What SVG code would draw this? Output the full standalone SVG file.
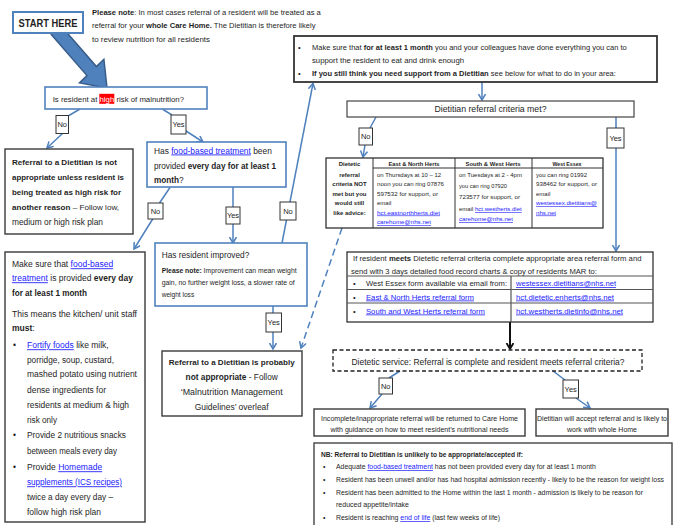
<svg xmlns="http://www.w3.org/2000/svg" width="678" height="525" viewBox="0 0 678 525">
<style>
text{font-family:"Liberation Sans",Arial,sans-serif;fill:#1e1e1e}
.b{font-weight:bold}
.lk{fill:#1a1aff;text-decoration:underline}
.bb{fill:#fff;stroke:#4f81bd;stroke-width:1.6}
.db{fill:#fff;stroke:#3a3a3a;stroke-width:1.4}
.lb{fill:#fff;stroke:#333;stroke-width:1}
.con{fill:none;stroke:#4f81bd;stroke-width:1.5}
.lt{font-size:7.5px;text-anchor:middle}
.lf{font-size:8.5px}
.tb{font-size:6px}
.tl{fill:none;stroke:#333;stroke-width:1}
</style>
<defs>
<marker id="ah" markerUnits="userSpaceOnUse" markerWidth="10" markerHeight="10" refX="6.5" refY="4" orient="auto"><path d="M0.5,0.5 L6.5,4 L0.5,7.5" fill="none" stroke="#4f81bd" stroke-width="1.5"/></marker>
<marker id="ahk" markerUnits="userSpaceOnUse" markerWidth="10" markerHeight="10" refX="6.5" refY="4" orient="auto"><path d="M0.5,0.5 L6.5,4 L0.5,7.5" fill="none" stroke="#111" stroke-width="1.8"/></marker>
</defs>
<rect width="678" height="525" fill="#fff"/>

<g id="connectors">
<polygon points="60.7,25.5 96.4,66.6 103.9,59.3 107,88 79.5,82.9 87,75.6 51.3,34.5" fill="#4f81bd" stroke="#385d8a" stroke-width="1.5"/>
<path class="con" d="M80,109 L69,115.5 M63,133 L47,148" marker-end="url(#ah)"/>
<path class="con" d="M163,109.5 L172,115 M186,131 L203,142" marker-end="url(#ah)"/>
<path class="con" d="M170,187.5 L159.5,203 M153,218.5 L134,249" marker-end="url(#ah)"/>
<path class="con" d="M233,187 L233,207 M233,224 L233,243" marker-end="url(#ah)"/>
<path class="con" d="M282,243 L313,83.5" marker-end="url(#ah)"/>
<path class="con" d="M273,306 L273,313 M273,332 L273,349" marker-end="url(#ah)"/>
<path class="con" d="M342,228 L301,348" stroke-dasharray="7 4" marker-end="url(#ah)"/>
<path class="con" d="M482,82 L482,100" marker-end="url(#ah)"/>
<path class="con" d="M376,117 L370,128 M365,145 L363,157" marker-end="url(#ah)"/>
<path class="con" d="M616,117 L616,128 M616,148 L616,251" marker-end="url(#ah)"/>
<path d="M510,322 L510,349" fill="none" stroke="#111" stroke-width="2" marker-end="url(#ahk)"/>
<path class="con" d="M400,371 L389,378 M382,394 L370,408" marker-end="url(#ah)"/>
<path class="con" d="M553,371 L565,380 M576,398 L590,408" marker-end="url(#ah)"/>
</g>

<g id="start">
<rect x="13" y="12" width="70" height="21" fill="#fff" stroke="#4f81bd" stroke-width="2"/>
<text x="48" y="26.8" class="b" font-size="10.5" text-anchor="middle" textLength="59" lengthAdjust="spacingAndGlyphs">START HERE</text>
</g>

<g id="note">
<text font-size="7.6" x="92" y="15"><tspan class="b">Please note</tspan>: In most cases referral of a resident will be treated as a</text>
<text font-size="7.6" x="92" y="28.4">referral for your <tspan class="b">whole Care Home.</tspan> The Dietitian is therefore likely</text>
<text font-size="7.6" x="92" y="42" textLength="118" lengthAdjust="spacingAndGlyphs">to review nutrition for all residents</text>
</g>

<g id="q-high-risk">
<rect class="bb" x="45" y="87" width="162" height="22"/>
<rect x="99.3" y="93.8" width="15" height="10" fill="#ff0000"/>
<text font-size="7.8" x="52.7" y="101.5">Is resident at <tspan fill="#fff">high</tspan> risk of malnutrition?</text>
</g>

<g id="not-appropriate">
<rect class="db" x="5" y="149" width="128" height="85"/>
<text class="b" font-size="8.1" x="12" y="165" textLength="105" lengthAdjust="spacingAndGlyphs">Referral to a Dietitian is not</text>
<text class="b" font-size="8.1" x="12" y="180" textLength="112" lengthAdjust="spacingAndGlyphs">appropriate unless resident is</text>
<text class="b" font-size="8.1" x="12" y="194.5" textLength="109" lengthAdjust="spacingAndGlyphs">being treated as high risk for</text>
<text font-size="8.1" x="12" y="210"><tspan class="b">another reason</tspan> – Follow low,</text>
<text font-size="8.4" x="12" y="224.5" textLength="91" lengthAdjust="spacingAndGlyphs">medium or high risk plan</text>
</g>

<g id="q-food-based">
<rect class="bb" x="147" y="142" width="139" height="45"/>
<text font-size="8.4" x="154" y="153.5">Has <tspan class="lk">food-based treatment</tspan> been</text>
<text font-size="8.2" x="154" y="168.5">provided <tspan class="b">every day for at least 1</tspan></text>
<text font-size="8.2" x="154" y="182.8"><tspan class="b">month</tspan>?</text>
</g>

<g id="food-based-advice">
<rect class="db" x="5" y="252" width="140" height="270"/>
<text class="lf" x="12" y="267.3">Make sure that <tspan class="lk">food-based</tspan></text>
<text class="lf" x="12" y="281.3"><tspan class="lk">treatment</tspan> is provided <tspan class="b">every day</tspan></text>
<text class="lf b" x="12" y="296.3" textLength="75" lengthAdjust="spacingAndGlyphs">for at least 1 month</text>
<text class="lf" x="12" y="317.3" textLength="125" lengthAdjust="spacingAndGlyphs">This means the kitchen/ unit staff</text>
<text class="lf" x="12" y="331.3"><tspan class="b">must</tspan>:</text>
<text class="lf" x="13" y="348.3">•</text>
<text class="lf" x="27" y="348.3"><tspan class="lk">Fortify foods</tspan> like milk,</text>
<text class="lf" x="27" y="363.3" textLength="87" lengthAdjust="spacingAndGlyphs">porridge, soup, custard,</text>
<text class="lf" x="27" y="377.3" textLength="110" lengthAdjust="spacingAndGlyphs">mashed potato using nutrient</text>
<text class="lf" x="27" y="393.3" textLength="79" lengthAdjust="spacingAndGlyphs">dense ingredients for</text>
<text class="lf" x="27" y="408.3" textLength="102" lengthAdjust="spacingAndGlyphs">residents at medium &amp; high</text>
<text class="lf" x="27" y="423.3" textLength="30" lengthAdjust="spacingAndGlyphs">risk only</text>
<text class="lf" x="13" y="438.3">•</text>
<text class="lf" x="27" y="438.3" textLength="99" lengthAdjust="spacingAndGlyphs">Provide 2 nutritious snacks</text>
<text class="lf" x="27" y="454.3" textLength="90" lengthAdjust="spacingAndGlyphs">between meals every day</text>
<text class="lf" x="13" y="470.3">•</text>
<text class="lf" x="27" y="470.3">Provide <tspan class="lk">Homemade</tspan></text>
<text class="lf lk" x="27" y="485.3" textLength="95" lengthAdjust="spacingAndGlyphs">supplements (ICS recipes)</text>
<text class="lf" x="27" y="500.3" textLength="86" lengthAdjust="spacingAndGlyphs">twice a day every day –</text>
<text class="lf" x="27" y="515.3" textLength="74" lengthAdjust="spacingAndGlyphs">follow high risk plan</text>
</g>

<g id="q-improved">
<rect class="bb" x="155" y="243" width="152" height="63"/>
<text font-size="8.2" x="161.7" y="258" textLength="87.6" lengthAdjust="spacingAndGlyphs">Has resident improved?</text>
<text font-size="6.8" x="161.7" y="272.5"><tspan class="b">Please note:</tspan> Improvement can mean weight</text>
<text font-size="6.8" x="161.7" y="284.5" textLength="133" lengthAdjust="spacingAndGlyphs">gain, no further weight loss, a slower rate of</text>
<text font-size="6.8" x="161.7" y="296.5" textLength="32.5" lengthAdjust="spacingAndGlyphs">weight loss</text>
</g>

<g id="probably-not">
<rect class="db" x="162" y="351" width="140" height="65"/>
<text class="b" font-size="8" x="231.7" y="365" text-anchor="middle" textLength="126" lengthAdjust="spacingAndGlyphs">Referral to a Dietitian is probably</text>
<text font-size="8.3" x="231.7" y="380" text-anchor="middle"><tspan class="b">not appropriate</tspan> - Follow</text>
<text font-size="8.6" x="231.7" y="395" text-anchor="middle" textLength="102" lengthAdjust="spacingAndGlyphs">‘Malnutrition Management</text>
<text font-size="8.6" x="231.7" y="410" text-anchor="middle" textLength="74" lengthAdjust="spacingAndGlyphs">Guidelines’ overleaf</text>
</g>

<g id="make-sure">
<rect x="294" y="36" width="363" height="46" fill="#fff" stroke="#333" stroke-width="1.8"/>
<text font-size="7.5" x="298" y="50">•</text>
<text font-size="7.5" x="312" y="50">Make sure that <tspan class="b">for at least 1 month</tspan> you and your colleagues have done everything you can to</text>
<text font-size="7.5" x="312" y="62.5" textLength="152" lengthAdjust="spacingAndGlyphs">support the resident to eat and drink enough</text>
<text font-size="7.5" x="298" y="76">•</text>
<text font-size="7.5" x="312" y="76"><tspan class="b">If you still think you need support from a Dietitian</tspan> see below for what to do in your area:</text>
</g>

<g id="q-criteria">
<rect x="347" y="101" width="287" height="16" fill="#fff" stroke="#444" stroke-width="1.2"/>
<text font-size="8.7" x="490.5" y="112.3" text-anchor="middle" textLength="112" lengthAdjust="spacingAndGlyphs">Dietitian referral criteria met?</text>
</g>

<g id="advice-table">
<rect x="326" y="158" width="277" height="70" fill="#fff" stroke="#222" stroke-width="1.2"/>
<path class="tl" d="M373,168 H603 M373,158 V228 M455,158 V228 M532,158 V228"/>
<text class="tb b" x="349.5" y="166" text-anchor="middle">Dietetic</text>
<text class="tb b" x="349.5" y="176.5" text-anchor="middle">referral</text>
<text class="tb b" x="349.5" y="186" text-anchor="middle">criteria NOT</text>
<text class="tb b" x="349.5" y="195.5" text-anchor="middle">met but you</text>
<text class="tb b" x="349.5" y="205" text-anchor="middle">would still</text>
<text class="tb b" x="349.5" y="214.5" text-anchor="middle">like advice:</text>
<text class="tb b" x="414" y="166" text-anchor="middle" textLength="51" lengthAdjust="spacingAndGlyphs">East &amp; North Herts</text>
<text class="tb b" x="493" y="166" text-anchor="middle" textLength="55" lengthAdjust="spacingAndGlyphs">South &amp; West Herts</text>
<text class="tb b" x="567" y="166" text-anchor="middle" textLength="29" lengthAdjust="spacingAndGlyphs">West Essex</text>
<text class="tb" x="377" y="176.5" textLength="64" lengthAdjust="spacingAndGlyphs">on Thursdays at 10 – 12</text>
<text class="tb" x="377" y="186" textLength="67" lengthAdjust="spacingAndGlyphs">noon you can ring 07876</text>
<text class="tb" x="377" y="195.5" textLength="61" lengthAdjust="spacingAndGlyphs">597532 for support, or</text>
<text class="tb" x="377" y="205">email</text>
<text class="tb lk" x="377" y="214.5" textLength="63" lengthAdjust="spacingAndGlyphs">hct.eastnorthherts.diet</text>
<text class="tb lk" x="377" y="224" textLength="54" lengthAdjust="spacingAndGlyphs">carehome@nhs.net</text>
<text class="tb" x="459" y="176.5" textLength="63" lengthAdjust="spacingAndGlyphs">on Tuesdays at 2 - 4pm</text>
<text class="tb" x="459" y="187.5" textLength="48" lengthAdjust="spacingAndGlyphs">you can ring 07920</text>
<text class="tb" x="459" y="198.5" textLength="61" lengthAdjust="spacingAndGlyphs">723577 for support, or</text>
<text class="tb" x="459" y="211">email <tspan class="lk">hct.westherts.diet</tspan></text>
<text class="tb lk" x="459" y="221" textLength="54" lengthAdjust="spacingAndGlyphs">carehome@nhs.net</text>
<text class="tb" x="536" y="176.5" textLength="51" lengthAdjust="spacingAndGlyphs">you can ring 01992</text>
<text class="tb" x="536" y="186" textLength="61" lengthAdjust="spacingAndGlyphs">938462 for support, or</text>
<text class="tb" x="536" y="195.5">email</text>
<text class="tb lk" x="536" y="205" textLength="61" lengthAdjust="spacingAndGlyphs">westessex.dietitians@</text>
<text class="tb lk" x="536" y="214.5" textLength="20" lengthAdjust="spacingAndGlyphs">nhs.net</text>
</g>

<g id="referral-forms">
<rect x="347" y="252" width="306" height="70" fill="#fff" stroke="#222" stroke-width="1.2"/>
<path d="M347,276 H653 M347,289.5 H653 M347,303 H653 M511,276 V322" fill="none" stroke="#555" stroke-width="1.2"/>
<text font-size="7.7" x="353" y="261">If resident <tspan class="b">meets</tspan> Dietetic referral criteria complete appropriate area referral form and</text>
<text font-size="7.6" x="351" y="274" textLength="246" lengthAdjust="spacingAndGlyphs">send with 3 days detailed food record charts &amp; copy of residents MAR to:</text>
<text font-size="7.6" x="353" y="286">•</text>
<text font-size="7.6" x="366" y="286" textLength="141" lengthAdjust="spacingAndGlyphs">West Essex form available via email from:</text>
<text font-size="7.6" class="lk" x="516" y="286" textLength="100" lengthAdjust="spacingAndGlyphs">westessex.dietitians@nhs.net</text>
<text font-size="7.6" x="353" y="299.5">•</text>
<text font-size="7.6" class="lk" x="366" y="299.5" textLength="108" lengthAdjust="spacingAndGlyphs">East &amp; North Herts referral form</text>
<text font-size="7.6" class="lk" x="516" y="299.5" textLength="98" lengthAdjust="spacingAndGlyphs">hct.dietetic.enherts@nhs.net</text>
<text font-size="7.6" x="353" y="313.5">•</text>
<text font-size="7.6" class="lk" x="366" y="313.5" textLength="119" lengthAdjust="spacingAndGlyphs">South and West Herts referral form</text>
<text font-size="7.6" class="lk" x="516" y="313.5" textLength="107" lengthAdjust="spacingAndGlyphs">hct.westherts.dietinfo@nhs.net</text>
</g>

<g id="q-dietetic-service">
<rect x="333" y="350" width="309" height="21" fill="#fff" stroke="#222" stroke-width="1.3" stroke-dasharray="4 2.5"/>
<text font-size="8.45" x="488" y="365.3" text-anchor="middle" textLength="273" lengthAdjust="spacingAndGlyphs">Dietetic service: Referral is complete and resident meets referral criteria?</text>
</g>

<g id="returned">
<rect class="db" x="314" y="409" width="211" height="27"/>
<text font-size="7" x="419.5" y="420.5" text-anchor="middle" textLength="197" lengthAdjust="spacingAndGlyphs">Incomplete/inappropriate referral will be returned to Care Home</text>
<text font-size="7" x="419.5" y="432" text-anchor="middle" textLength="178" lengthAdjust="spacingAndGlyphs">with guidance on how to meet resident’s nutritional needs</text>
</g>

<g id="accepted">
<rect class="db" x="536" y="409" width="132" height="27"/>
<text font-size="7" x="602" y="420.5" text-anchor="middle" textLength="130" lengthAdjust="spacingAndGlyphs">Dietitian will accept referral and is likely to</text>
<text font-size="7" x="602" y="432" text-anchor="middle" textLength="70" lengthAdjust="spacingAndGlyphs">work with whole Home</text>
</g>

<g id="nb">
<rect x="314" y="443" width="358" height="90" fill="#fff" stroke="#444" stroke-width="1.4"/>
<text font-size="6.6" class="b" x="321" y="456.5" textLength="202" lengthAdjust="spacingAndGlyphs">NB: Referral to Dietitian is unlikely to be appropriate/accepted if:</text>
<text font-size="6.9" x="323" y="469">•</text>
<text font-size="6.9" x="336" y="469">Adequate <tspan class="lk">food-based treatment</tspan> has not been provided every day for at least 1 month</text>
<text font-size="6.9" x="323" y="482">•</text>
<text font-size="6.85" x="336" y="482" textLength="328" lengthAdjust="spacingAndGlyphs">Resident has been unwell and/or has had hospital admission recently - likely to be the reason for weight loss</text>
<text font-size="6.9" x="323" y="494.5">•</text>
<text font-size="6.9" x="336" y="494.5" textLength="307" lengthAdjust="spacingAndGlyphs">Resident has been admitted to the Home within the last 1 month - admission is likely to be reason for</text>
<text font-size="6.9" x="336" y="506.5" textLength="73" lengthAdjust="spacingAndGlyphs">reduced appetite/intake</text>
<text font-size="6.9" x="323" y="520">•</text>
<text font-size="6.9" x="336" y="520">Resident is reaching <tspan class="lk">end of life</tspan> (last few weeks of life)</text>
</g>

<g id="labels">
<g id="lbl-no-1"><rect class="lb" x="56" y="115.5" width="12.5" height="18"/><text class="lt" x="62.2" y="127.3">No</text></g>
<g id="lbl-yes-1"><rect class="lb" x="171" y="115" width="15" height="19"/><text class="lt" x="178.5" y="127.3">Yes</text></g>
<g id="lbl-no-2"><rect class="lb" x="148" y="203" width="15" height="16"/><text class="lt" x="155.5" y="213.7">No</text></g>
<g id="lbl-yes-2"><rect class="lb" x="226" y="207" width="14" height="17"/><text class="lt" x="233" y="218.2">Yes</text></g>
<g id="lbl-no-3"><rect class="lb" x="280" y="202" width="16" height="18"/><text class="lt" x="288" y="213.7">No</text></g>
<g id="lbl-yes-3"><rect class="lb" x="266" y="313" width="15.5" height="19"/><text class="lt" x="273.7" y="325.2">Yes</text></g>
<g id="lbl-no-4"><rect class="lb" x="359" y="128" width="13.5" height="17"/><text class="lt" x="365.7" y="139.2">No</text></g>
<g id="lbl-yes-4"><rect class="lb" x="607" y="128" width="17" height="20"/><text class="lt" x="615.5" y="140.7">Yes</text></g>
<g id="lbl-no-5"><rect class="lb" x="379" y="378" width="13.5" height="16"/><text class="lt" x="385.7" y="388.7">No</text></g>
<g id="lbl-yes-5"><rect class="lb" x="563" y="380" width="15.5" height="18"/><text class="lt" x="570.7" y="391.7">Yes</text></g>
</g>
</svg>
